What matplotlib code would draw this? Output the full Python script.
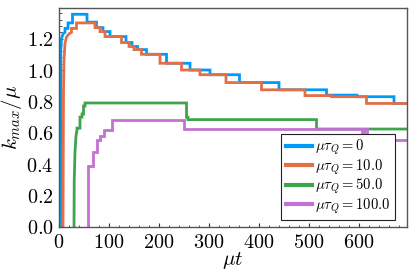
import numpy as np
import matplotlib
matplotlib.use("Agg")
import matplotlib.pyplot as plt
from matplotlib.ticker import FuncFormatter, MultipleLocator, AutoMinorLocator

plt.rcParams['mathtext.fontset'] = 'cm'
plt.rcParams['font.family'] = ['DejaVu Serif']

T_END = 700

# --- data ---
# mu tau_Q = 0
blue_rise_t = [3, 3.5, 5, 8, 12]
blue_rise_v = [0, 1.12, 1.20, 1.23, 1.24]
blue_step_t = [12, 18, 27, 56, 75, 88, 102, 134, 146, 157, 175, 215, 262, 302, 361, 440, 535, 596, 670]
blue_step_v = [1.265, 1.30, 1.355, 1.305, 1.27, 1.245, 1.213, 1.175, 1.15, 1.13, 1.10, 1.043, 1.00, 0.97, 0.92, 0.874, 0.84, 0.83, 0.787]

# mu tau_Q = 10
orange_rise_t = [8, 9, 10, 12, 15, 20, 25]
orange_rise_v = [0, 0.85, 1.06, 1.17, 1.21, 1.23, 1.24]
orange_step_t = [25, 35, 72, 82, 92, 125, 140, 150, 165, 202, 245, 282, 334, 405, 492, 545, 615]
orange_step_v = [1.265, 1.30, 1.27, 1.245, 1.213, 1.175, 1.15, 1.13, 1.10, 1.043, 1.00, 0.97, 0.92, 0.874, 0.837, 0.83, 0.787]

# mu tau_Q = 50
green_rise_t = [30, 30.5, 32, 34, 36]
green_rise_v = [0, 0.30, 0.48, 0.58, 0.62]
green_step_t = [36, 42, 46, 49, 52, 255, 258, 515]
green_step_v = [0.63, 0.70, 0.72, 0.77, 0.79, 0.70, 0.684, 0.624]

# mu tau_Q = 100
purple_rise_t = [58]
purple_rise_v = [0]
purple_step_t = [58.5, 67, 75, 82, 89, 105, 249, 605, 610, 616]
purple_step_v = [0.39, 0.48, 0.555, 0.58, 0.62, 0.684, 0.624, 0.565, 0.624, 0.555]

labels = [r'$\mu\tau_Q = 0$', r'$\mu\tau_Q = 10.0$', r'$\mu\tau_Q = 50.0$', r'$\mu\tau_Q = 100.0$']
colors = ['#009AFA', '#E36F47', '#3EA44E', '#C371D2']

series = [
    (blue_rise_t, blue_rise_v, blue_step_t, blue_step_v),
    (orange_rise_t, orange_rise_v, orange_step_t, orange_step_v),
    (green_rise_t, green_rise_v, green_step_t, green_step_v),
    (purple_rise_t, purple_rise_v, purple_step_t, purple_step_v),
]


def build_path(rt, rv, st, sv):
    xs = list(rt)
    ys = list(rv)
    for t, v in zip(st, sv):
        xs.append(t)
        ys.append(ys[-1])
        xs.append(t)
        ys.append(v)
    xs.append(T_END)
    ys.append(ys[-1])
    return xs, ys


fig = plt.figure(figsize=(4.15, 2.77), dpi=100)
ax = fig.add_axes([59/415, 1-227/277, (407-59)/415, (227-8)/277])

for (rt, rv, st, sv), c, lab in zip(series, colors, labels):
    xs, ys = build_path(rt, rv, st, sv)
    ax.plot(xs, ys, color=c, lw=2.0, label=lab, solid_joinstyle='miter')

ax.set_xlim(0, 696)
ax.set_ylim(0, 1.395)
ax.xaxis.set_major_locator(MultipleLocator(100))
ax.yaxis.set_major_locator(MultipleLocator(0.2))
ax.xaxis.set_minor_locator(AutoMinorLocator(5))
ax.yaxis.set_minor_locator(AutoMinorLocator(5))
ax.xaxis.set_major_formatter(FuncFormatter(lambda v, p: r'$%d$' % round(v)))
ax.yaxis.set_major_formatter(FuncFormatter(lambda v, p: r'$%.1f$' % v))
ax.tick_params(which='both', direction='in', top=False, right=False, labelsize=14.5, color='#333333')
ax.tick_params(which='major', length=3, width=0.8, pad=4)
ax.tick_params(which='minor', length=1.8, width=0.6)
for s in ax.spines.values():
    s.set_color('#555555')
    s.set_linewidth(1.0)

ax.set_xlabel(r'$\mu t$', fontsize=15, labelpad=-1)
ax.set_ylabel(r'$k_{max}/\mu$', fontsize=15, labelpad=2)

leg = ax.legend(loc='lower right', bbox_to_anchor=(0.966, 0.032), borderaxespad=0,
                fontsize=10.5, frameon=True, fancybox=False, framealpha=1,
                edgecolor='#222222', handlelength=1.8, handletextpad=0.25,
                labelspacing=0.0, borderpad=0.3)
leg.get_frame().set_linewidth(0.8)
for h in leg.get_lines():
    h.set_linewidth(3)

fig.savefig('out.png', dpi=100)
